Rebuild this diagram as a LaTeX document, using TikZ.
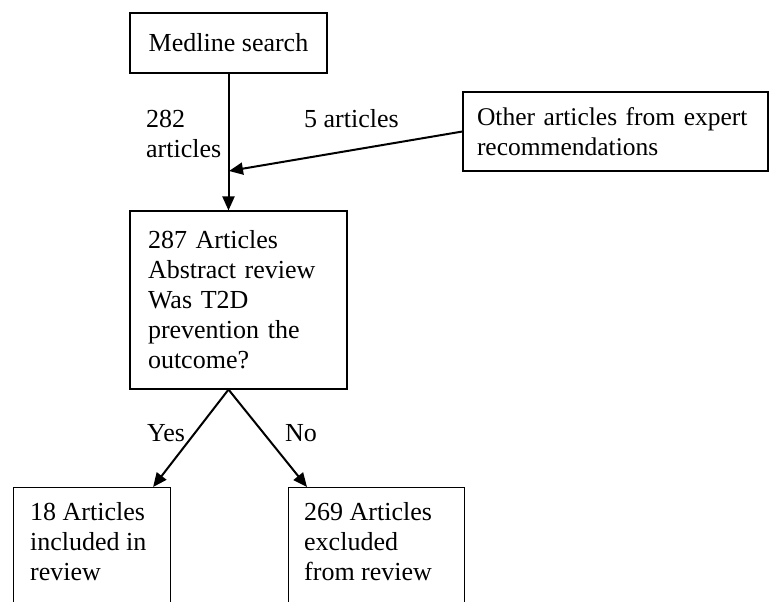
\documentclass[tikz,border=0pt]{standalone}
\usepackage{fontspec}
\setmainfont{Liberation Serif}
\usetikzlibrary{arrows.meta,calc}
\tikzset{
  boxnode/.style={draw, line width=1.1pt, inner sep=0pt},
  txt/.style={inner sep=0pt, align=left, anchor=north west, font=\fontsize{26}{30}\selectfont},
  arr/.style={line width=2pt, -{Triangle[length=14pt,width=12pt]}}
}
\begin{document}
\begin{tikzpicture}[x=1pt,y=-1pt]
\useasboundingbox (0,0) rectangle (771,602);
\clip (0,0) rectangle (771,602);
\fill[white] (0,0) rectangle (771,602);
% boxes
\node[boxnode, minimum width=197pt, minimum height=60pt, font=\fontsize{26}{30}\selectfont] (medline) at (228.5,43) {Medline search};
\node[boxnode, minimum width=217pt, minimum height=178pt, text width=181pt, align=left, inner xsep=18pt, font=\fontsize{26}{30}\selectfont] (mid) at (238.5,300) {287 Articles\\Abstract review\\Was T2D\\prevention the\\outcome?};
\node[boxnode, minimum width=305pt, minimum height=79pt, text width=277pt, align=left, inner xsep=14pt, font=\fontsize{25.5}{30}\selectfont] (other) at (615.5,131.5) {Other articles from expert\\recommendations};
\node[boxnode, minimum width=157pt, minimum height=160pt, anchor=north west] (incl) at (13,487) {};
\node[boxnode, minimum width=176pt, minimum height=160pt, anchor=north west] (excl) at (288,487) {};
\node[txt] (incltxt) at (30,502) {18 Articles\\included in\\review};
\node[txt] (excltxt) at (304,502) {269 Articles\\excluded\\from review};
% labels
\node[txt] (l282) at (146,110) {282\\articles};
\node[txt] (l5) at (304,109) {5 articles};
\node[txt] (lyes) at (147,424) {Yes};
\node[txt] (lno) at (285,424) {No};
% connectors
\coordinate (join) at (229,171);
\draw[arr] (medline.south) -- (medline.south |- mid.north);
\draw[arr] (other.west) -- (join);
\coordinate (fork) at (medline.south |- mid.south);
\draw[arr] (fork) -- ([xshift=-18pt]incl.north east);
\draw[arr] (fork) -- ([xshift=19pt]excl.north west);
\end{tikzpicture}
\end{document}
